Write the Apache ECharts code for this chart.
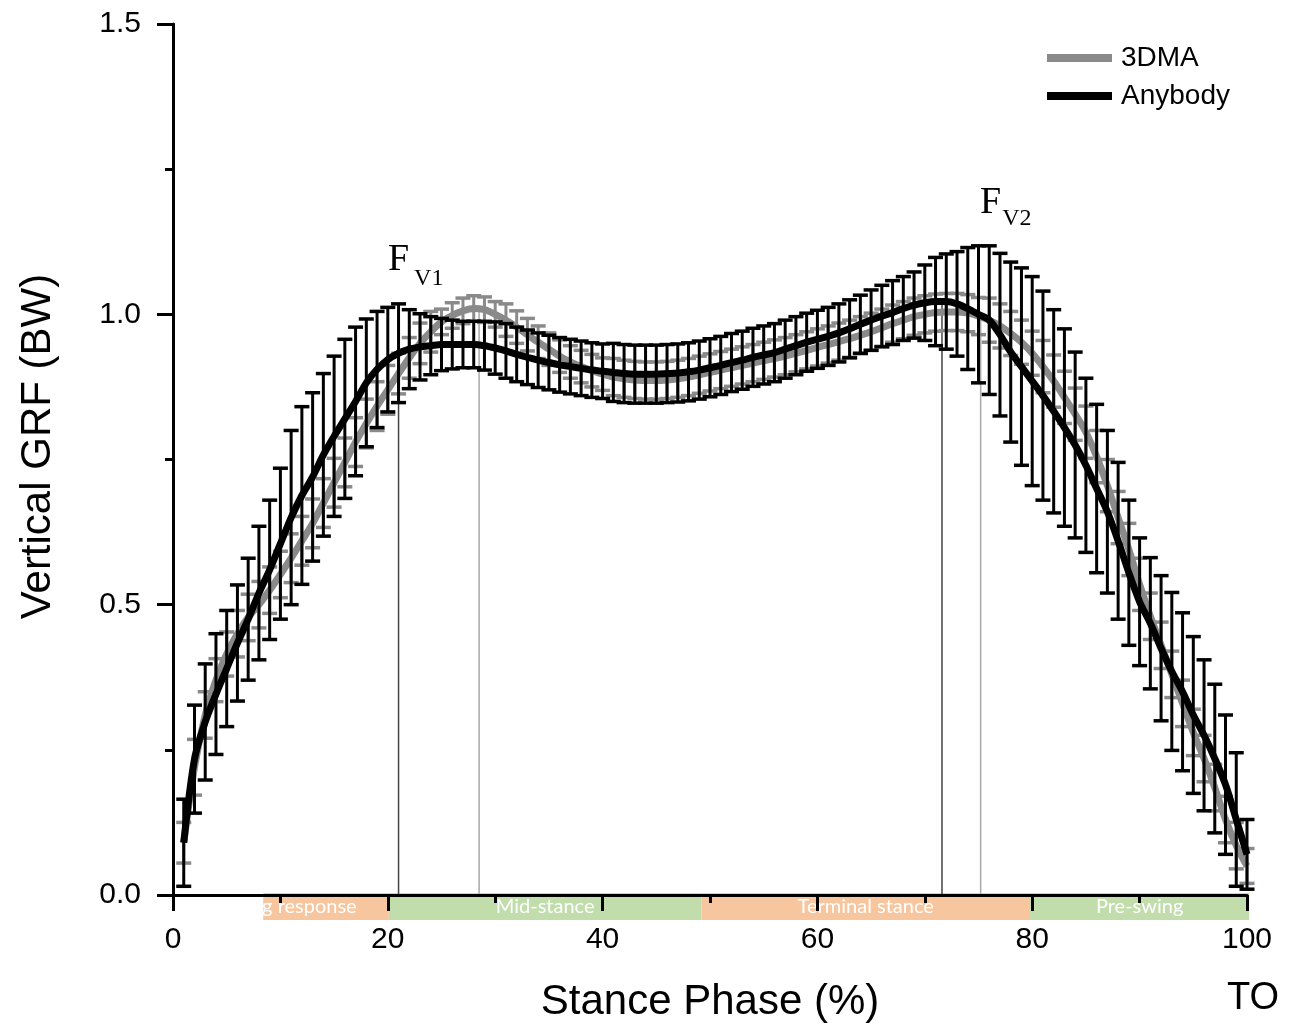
<!DOCTYPE html>
<html><head><meta charset="utf-8">
<script src="https://cdn.jsdelivr.net/npm/echarts@6/dist/echarts.min.js"></script>
<style>html,body{margin:0;padding:0;background:#fff}#c{width:1302px;height:1028px}</style>
</head><body><div id="c"></div>
<script>
// ---- data ----
const stancePct = [];
for (let i = 1; i <= 100; i++) stancePct.push(i);

const anybodyMean = [
 0.09,0.234,0.298,0.346,0.39,0.434,0.475,0.52,0.56,0.605,
 0.65,0.688,0.72,0.758,0.79,0.82,0.85,0.882,0.905,0.922,
 0.933,0.94,0.944,0.946,0.948,0.948,0.948,0.948,0.946,0.942,
 0.937,0.931,0.926,0.921,0.917,0.913,0.91,0.907,0.904,0.902,
 0.9,0.898,0.897,0.897,0.897,0.898,0.899,0.901,0.904,0.908,
 0.912,0.917,0.921,0.926,0.93,0.934,0.94,0.946,0.952,0.957,
 0.962,0.968,0.975,0.983,0.99,0.997,1.003,1.01,1.016,1.02,
 1.022,1.022,1.018,1.01,1.0,0.99,0.965,0.935,0.91,0.885,
 0.86,0.833,0.805,0.775,0.74,0.70,0.66,0.61,0.555,0.505,
 0.468,0.425,0.385,0.35,0.31,0.275,0.235,0.19,0.13,0.07
];
const anybodySD = [
 0.075,0.093,0.1,0.104,0.1,0.1,0.105,0.115,0.12,0.13,
 0.15,0.153,0.145,0.14,0.138,0.137,0.128,0.11,0.1,0.09,
 0.085,0.068,0.057,0.05,0.045,0.042,0.04,0.04,0.042,0.045,
 0.047,0.047,0.047,0.047,0.047,0.047,0.047,0.047,0.047,0.047,
 0.05,0.05,0.05,0.05,0.05,0.05,0.05,0.05,0.05,0.05,
 0.05,0.05,0.05,0.05,0.05,0.05,0.05,0.05,0.05,0.05,
 0.05,0.05,0.05,0.05,0.052,0.053,0.055,0.055,0.057,0.065,
 0.076,0.082,0.09,0.105,0.118,0.128,0.14,0.155,0.17,0.18,
 0.18,0.175,0.17,0.16,0.15,0.145,0.14,0.135,0.125,0.11,
 0.113,0.125,0.136,0.136,0.135,0.13,0.128,0.12,0.115,0.06
];
const dmaMean = [
 0.09,0.22,0.31,0.37,0.415,0.45,0.478,0.5,0.525,0.552,
 0.58,0.61,0.64,0.675,0.71,0.745,0.78,0.812,0.842,0.87,
 0.898,0.925,0.95,0.97,0.987,0.998,1.006,1.01,1.008,1.0,
 0.99,0.978,0.965,0.952,0.94,0.928,0.918,0.91,0.903,0.897,
 0.892,0.889,0.887,0.886,0.886,0.887,0.889,0.892,0.896,0.9,
 0.904,0.908,0.912,0.916,0.92,0.924,0.928,0.933,0.938,0.943,
 0.948,0.953,0.958,0.964,0.97,0.977,0.984,0.99,0.996,1.0,
 1.003,1.004,1.004,1.002,0.997,0.99,0.98,0.967,0.952,0.933,
 0.91,0.885,0.857,0.828,0.797,0.755,0.705,0.65,0.595,0.535,
 0.48,0.43,0.38,0.33,0.28,0.235,0.185,0.13,0.085,0.05
];
const dmaSD = [
 0.035,0.048,0.04,0.037,0.038,0.04,0.04,0.04,0.04,0.04,
 0.042,0.042,0.042,0.042,0.042,0.042,0.042,0.042,0.042,0.042,
 0.035,0.035,0.035,0.035,0.022,0.022,0.022,0.022,0.022,0.022,
 0.028,0.028,0.028,0.028,0.028,0.028,0.028,0.028,0.028,0.028,
 0.032,0.032,0.032,0.032,0.032,0.032,0.032,0.032,0.032,0.032,
 0.032,0.032,0.032,0.032,0.032,0.032,0.032,0.032,0.032,0.032,
 0.032,0.032,0.032,0.032,0.032,0.032,0.032,0.032,0.032,0.032,
 0.032,0.032,0.032,0.032,0.032,0.038,0.038,0.038,0.038,0.038,
 0.045,0.045,0.045,0.045,0.045,0.045,0.045,0.045,0.045,0.045,
 0.04,0.04,0.04,0.04,0.04,0.04,0.04,0.04,0.04,0.03
];

const phaseNames = ['Loading response', 'Mid-stance', 'Terminal stance', 'Pre-swing'];
const phaseStart = [8.4, 20.1, 49.2, 79.8];
const phaseEnd = [20.1, 49.2, 79.8, 100.2];
const phaseLabelAt = [10, 34.65, 64.5, 90];

// peak drop lines (x position, top value)
const peakX = [21, 28.5, 71.6, 75.2];
const peakY = [0.933, 1.01, 1.022, 0.997];

const annoText = ['F', 'V1', 'F', 'V2'];
const annoX = [20.02, 22.45, 75.14, 77.2];
const annoY = [1.094, 1.062, 1.191, 1.164];

// ---- chart ----
const chart = echarts.init(document.getElementById('c'), null, {renderer: 'canvas'});
const SANS = 'Liberation Sans, Arial, sans-serif';
const GRAY = '#8a8a8a';

function errorBarRender(color, lw, capLw, capHalf) {
  return function (params, api) {
    const x = api.value(0), lo = api.value(1), hi = api.value(2);
    const pHi = api.coord([x, hi]), pLo = api.coord([x, lo]);
    const st = {stroke: color, lineWidth: lw};
    const cs = {stroke: color, lineWidth: capLw};
    return {type: 'group', children: [
      {type: 'line', shape: {x1: pHi[0], y1: pHi[1], x2: pLo[0], y2: pLo[1]}, style: st},
      {type: 'line', shape: {x1: pHi[0] - capHalf, y1: pHi[1], x2: pHi[0] + capHalf, y2: pHi[1]}, style: cs},
      {type: 'line', shape: {x1: pLo[0] - capHalf, y1: pLo[1], x2: pLo[0] + capHalf, y2: pLo[1]}, style: cs}
    ]};
  };
}

const dmaErr = stancePct.map((x, i) => [x, dmaMean[i] - dmaSD[i], dmaMean[i] + dmaSD[i]]);
const anyErr = stancePct.map((x, i) => [x, anybodyMean[i] - anybodySD[i], anybodyMean[i] + anybodySD[i]]);

const option = {
  animation: false,
  backgroundColor: '#fff',
  grid: {left: 173, right: 55, top: 24, bottom: 131, containLabel: false},
  legend: {
    data: ['3DMA', 'Anybody'],
    orient: 'vertical',
    left: 1042, top: 39,
    itemWidth: 65, itemHeight: 8, itemGap: 10,
    icon: 'rect',
    selectedMode: false,
    textStyle: {fontFamily: SANS, fontSize: 28, color: '#000', padding: [0, 0, 0, 4]}
  },
  xAxis: {
    type: 'value', min: 0, max: 100, interval: 20, z: 10,
    name: 'Stance Phase (%)', nameLocation: 'middle', nameGap: 86,
    nameTextStyle: {fontFamily: SANS, fontSize: 42, color: '#000'},
    axisLine: {show: true, lineStyle: {color: '#000', width: 3}},
    axisTick: {show: true, length: 16, lineStyle: {color: '#000', width: 3}},
    minorTick: {show: true, splitNumber: 2, length: 8, lineStyle: {color: '#000', width: 3}},
    splitLine: {show: false},
    axisLabel: {fontFamily: SANS, fontSize: 30, color: '#000', margin: 30}
  },
  yAxis: {
    type: 'value', min: 0, max: 1.5, interval: 0.5, z: 10,
    name: 'Vertical GRF (BW)', nameLocation: 'middle', nameGap: 114,
    nameTextStyle: {fontFamily: SANS, fontSize: 42, color: '#000', padding: [0, 0, 0, 26]},
    axisLine: {show: true, lineStyle: {color: '#000', width: 3}},
    axisTick: {show: true, length: 16, lineStyle: {color: '#000', width: 3}},
    minorTick: {show: true, splitNumber: 2, length: 8, lineStyle: {color: '#000', width: 3}},
    splitLine: {show: false},
    axisLabel: {fontFamily: SANS, fontSize: 30, color: '#000', margin: 32,
      formatter: v => v.toFixed(1)}
  },
  series: [
    {
      name: 'phases', type: 'custom', clip: false, z: 1, silent: true,
      data: phaseNames.map((n, i) => [phaseStart[i], phaseEnd[i], phaseLabelAt[i]]),
      encode: {x: [0, 1]},
      renderItem: function (params, api) {
        const s = api.value(0), e = api.value(1), c = api.value(2);
        const p0 = api.coord([s, 0]), p1 = api.coord([e, 0]), pc = api.coord([c, 0]);
        const idx = params.dataIndex;
        return {type: 'group', children: [
          {type: 'rect', shape: {x: p0[0], y: p0[1] - 2, width: p1[0] - p0[0], height: 27},
            style: {fill: idx % 2 ? '#c1ddab' : '#f8c69e'}},
          {type: 'text', style: {text: phaseNames[idx], x: pc[0], y: p0[1] + 12,
            align: 'center', verticalAlign: 'middle', fill: '#fff',
            font: '20px Lato, sans-serif'}}
        ]};
      }
    },
    {
      name: 'peaks', type: 'custom', clip: false, z: 1, silent: true,
      data: peakX.map((x, i) => [x, peakY[i]]),
      renderItem: function (params, api) {
        const x = api.value(0), y = api.value(1);
        const a = api.coord([x, 0]), b = api.coord([x, y]);
        return {type: 'line', shape: {x1: a[0], y1: a[1], x2: b[0], y2: b[1]},
          style: {stroke: params.dataIndex % 2 ? '#a8a8a8' : '#444', lineWidth: 1.5}};
      }
    },
    {
      name: '3DMA sd', type: 'custom', clip: false, z: 2, silent: true,
      data: dmaErr, encode: {x: 0, y: [1, 2]},
      renderItem: errorBarRender(GRAY, 3, 3.5, 7.5)
    },
    {
      name: '3DMA', type: 'line', z: 3, color: GRAY, smooth: 0.3, showSymbol: false, symbol: 'none',
      lineStyle: {width: 7, color: GRAY},
      data: stancePct.map((x, i) => [x, dmaMean[i]])
    },
    {
      name: 'Anybody sd', type: 'custom', clip: false, z: 4, silent: true,
      data: anyErr, encode: {x: 0, y: [1, 2]},
      renderItem: errorBarRender('#000', 3, 3.5, 7.5)
    },
    {
      name: 'Anybody', type: 'line', z: 5, color: '#000', smooth: 0.3, showSymbol: false, symbol: 'none',
      lineStyle: {width: 7, color: '#000'},
      data: stancePct.map((x, i) => [x, anybodyMean[i]])
    },
    {
      name: 'annotations', type: 'custom', clip: false, z: 6, silent: true,
      data: annoText.map((t, i) => [annoX[i], annoY[i]]),
      renderItem: function (params, api) {
        const p = api.coord([api.value(0), api.value(1)]);
        const sub = params.dataIndex % 2 === 1;
        return {type: 'text', style: {text: annoText[params.dataIndex], x: p[0], y: p[1],
          align: 'left', verticalAlign: 'middle', fill: '#000',
          font: (sub ? '24px' : '38px') + ' "Liberation Serif", "Times New Roman", serif'}};
      }
    }
  ]
};
chart.setOption(option);

// "TO" label at the end of the stance phase axis
const toPx = chart.convertToPixel({xAxisIndex: 0}, 100);
chart.setOption({graphic: [{
  type: 'text', x: toPx + 6, y: 999,
  style: {text: 'TO', align: 'center', verticalAlign: 'middle', fill: '#000',
    font: '38px "Liberation Sans", Arial, sans-serif'}
}]});
</script>
</body></html>
